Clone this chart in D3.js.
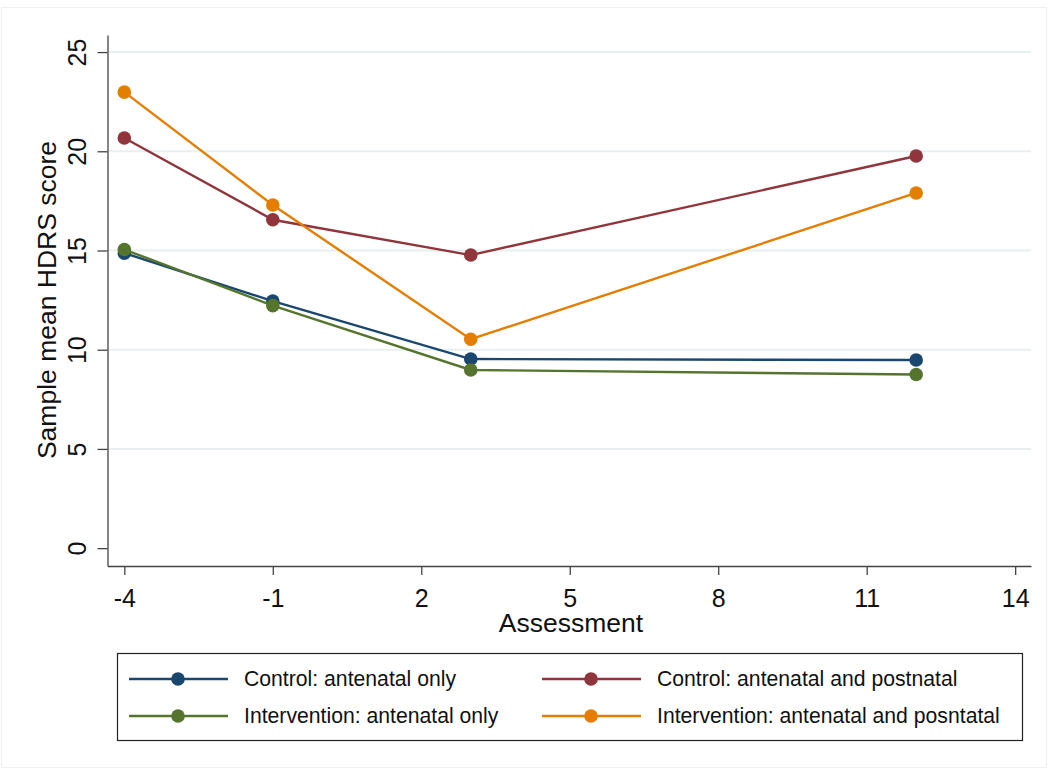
<!DOCTYPE html>
<html>
<head>
<meta charset="utf-8">
<script src="https://cdn.jsdelivr.net/npm/d3@7"></script>
<style>
  html, body { margin: 0; padding: 0; background: #fff; }
  svg { display: block; font-family: "Liberation Sans", Arial, sans-serif; }
</style>
</head>
<body>
<svg id="chart" width="1048" height="769"></svg>
<script>
// Assessment time points
const assessments = [-4, -1, 3, 12];

// Series: sample mean HDRS score at each assessment
const seriesNames = [
  "Control: antenatal only",
  "Control: antenatal and postnatal",
  "Intervention: antenatal only",
  "Intervention: antenatal and posntatal"
];
const controlAntenatalOnly = [14.87, 12.45, 9.53, 9.48];
const controlAntenatalPostnatal = [20.67, 16.55, 14.77, 19.76];
const interventionAntenatalOnly = [15.05, 12.22, 8.98, 8.75];
const interventionAntenatalPostnatal = [22.98, 17.29, 10.53, 17.9];
const seriesColors = ["#1a476f", "#90353b", "#55752f", "#e37e00"];

// Axis ticks
const xTicks = [-4, -1, 2, 5, 8, 11, 14];
const yTicks = [0, 5, 10, 15, 20, 25];

const svg = d3.select("#chart");

// Faint outer frame
svg.append("rect")
  .attr("x", 1.5).attr("y", 7.5).attr("width", 1045).attr("height", 760)
  .attr("fill", "none").attr("stroke", "#eef1f3").attr("stroke-width", 1);

const x = d3.scaleLinear().domain([-4.34, 14.32]).range([107.5, 1031]);
const y = d3.scaleLinear().domain([-0.9, 25.86]).range([566, 35]);

// Gridlines
svg.append("g")
  .selectAll("line")
  .data(yTicks.filter(d => d > 0))
  .join("line")
  .attr("x1", 108).attr("x2", 1031)
  .attr("y1", d => y(d)).attr("y2", d => y(d))
  .attr("stroke", "#e8eff1").attr("stroke-width", 2);

// Y axis
const yAxis = svg.append("g")
  .attr("transform", "translate(107.5,0)")
  .call(d3.axisLeft(y).tickValues(yTicks).tickFormat(d => String(d))
    .tickSize(10).tickSizeOuter(0).tickPadding(0));
yAxis.select(".domain").attr("stroke", "#444").attr("stroke-width", 1.3);
yAxis.selectAll(".tick line").attr("stroke", "#444").attr("stroke-width", 1.3);
yAxis.selectAll(".tick text")
  .attr("x", 0).attr("dy", 0)
  .attr("transform", "translate(-21.5,0) rotate(-90)")
  .attr("text-anchor", "middle")
  .attr("font-size", 25).attr("fill", "#111");

// X axis
const xAxis = svg.append("g")
  .attr("transform", "translate(0,566)")
  .call(d3.axisBottom(x).tickValues(xTicks).tickFormat(d => String(d))
    .tickSize(9).tickSizeOuter(0));
xAxis.select(".domain").attr("stroke", "#444").attr("stroke-width", 1.3);
xAxis.selectAll(".tick line").attr("stroke", "#444").attr("stroke-width", 1.3);
xAxis.selectAll(".tick text")
  .attr("y", 41).attr("dy", 0)
  .attr("font-size", 25).attr("fill", "#111");

// Axis titles
svg.append("text")
  .attr("transform", "translate(56,300) rotate(-90)")
  .attr("text-anchor", "middle")
  .attr("font-size", 26.5).attr("fill", "#111")
  .text("Sample mean HDRS score");
svg.append("text")
  .attr("x", 571).attr("y", 632)
  .attr("text-anchor", "middle")
  .attr("font-size", 26.5).attr("fill", "#111")
  .text("Assessment");

// Lines and markers
const allSeries = [controlAntenatalOnly, controlAntenatalPostnatal, interventionAntenatalOnly, interventionAntenatalPostnatal];
const line = d3.line().x((d, i) => x(assessments[i])).y(d => y(d));
allSeries.forEach((values, k) => {
  const g = svg.append("g");
  g.append("path")
    .attr("d", line(values))
    .attr("fill", "none")
    .attr("stroke", seriesColors[k])
    .attr("stroke-width", 2.4);
  g.selectAll("circle")
    .data(values)
    .join("circle")
    .attr("cx", (d, i) => x(assessments[i]))
    .attr("cy", d => y(d))
    .attr("r", 6.8)
    .attr("fill", seriesColors[k]);
});

// Legend
const legend = svg.append("g");
legend.append("rect")
  .attr("x", 117.5).attr("y", 653.5).attr("width", 905).attr("height", 87)
  .attr("fill", "#fff").attr("stroke", "#222").attr("stroke-width", 1.2);
const legendPos = [
  { lx: 129, ty: 679 },
  { lx: 542, ty: 679 },
  { lx: 129, ty: 716 },
  { lx: 542, ty: 716 }
];
seriesNames.forEach((name, k) => {
  const p = legendPos[k];
  legend.append("line")
    .attr("x1", p.lx).attr("x2", p.lx + 99)
    .attr("y1", p.ty).attr("y2", p.ty)
    .attr("stroke", seriesColors[k]).attr("stroke-width", 2.4);
  legend.append("circle")
    .attr("cx", p.lx + 49).attr("cy", p.ty).attr("r", 6.8)
    .attr("fill", seriesColors[k]);
  legend.append("text")
    .attr("x", p.lx + 115).attr("y", p.ty + 7)
    .attr("font-size", 21.2).attr("fill", "#111")
    .text(name);
});
</script>
</body>
</html>
